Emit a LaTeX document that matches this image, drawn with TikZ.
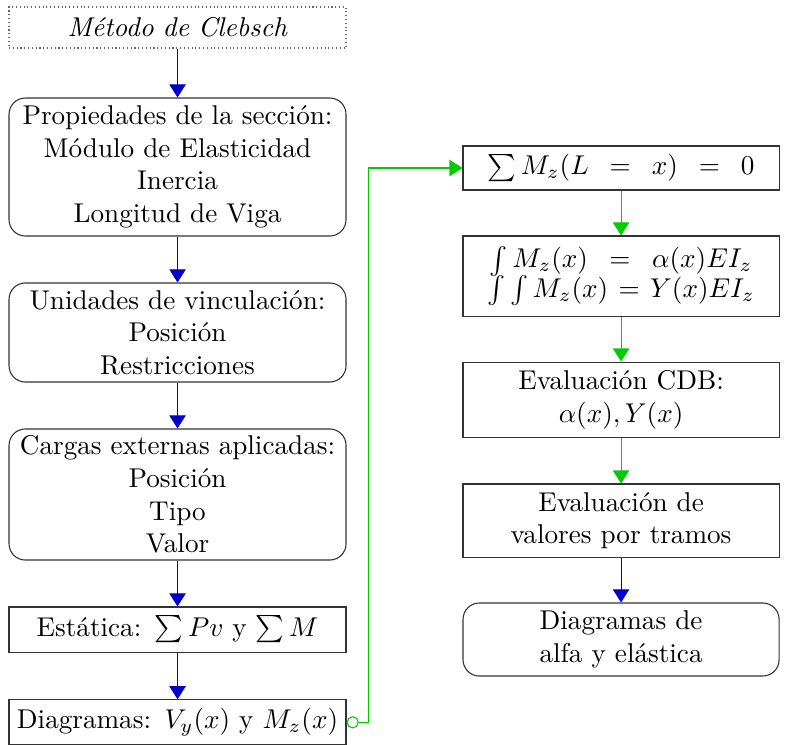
\documentclass[tikz,border=0pt]{standalone}
\usepackage{amsfonts, amssymb, amsmath}
\usepackage{xcolor}
\usepackage{tikz}
\usetikzlibrary{calc,arrows.meta}

\tikzset{
	caja/.style={draw=black!80, inner sep=0pt, align=center},
	cajaizq/.style={caja, minimum width=4.362cm, text width=4.3cm},
	cajader/.style={caja, minimum width=4.091cm, text width=4.0cm},
	redonda/.style={rounded corners=6pt},
	flechaazul/.style={blue!80!black, -{Triangle[width=6pt,length=4.8pt]}},
	flechaverde/.style={green!80!black, {Circle[open,length=4.5pt]}-{Triangle[width=6pt,length=4.8pt]}},
	flechaverdeb/.style={green!80!black, -{Triangle[width=6pt,length=4.8pt]}}
}

\begin{document}
\begin{tikzpicture}
\useasboundingbox (0,0) rectangle (10.2,-9.631);

% columna izquierda
\node[cajaizq, draw=black!60, densely dotted, minimum height=0.531cm] (titulo) at (2.298,-0.356) {\textit{Método de Clebsch}};
\node[cajaizq, redonda, minimum height=1.786cm] (prop) at (2.298,-2.162) {Propiedades de la sección:\\ Módulo de Elasticidad\\ Inercia\\ Longitud de Viga};
\node[cajaizq, redonda, minimum height=1.282cm] (unid) at (2.298,-4.304) {Unidades de vinculación:\\ Posición\\ Restricciones};
\node[cajaizq, redonda, minimum height=1.696cm] (cargas) at (2.298,-6.401) {Cargas externas aplicadas:\\ Posición\\ Tipo\\ Valor};
\node[cajaizq, minimum height=0.583cm] (estat) at (2.298,-8.149) {Estática: $\sum Pv$ y $\sum M$};
\node[cajaizq, minimum height=0.583cm] (diag) at (2.298,-9.35) {Diagramas: $V_y(x)$ y $M_z(x)$};

% columna derecha
\node[cajader, minimum height=0.57cm] (suma) at (8.039,-2.175) {$\sum M_z(L\;=\;x)\;=\;0$};
\node[cajader, minimum height=1.036cm] (integ) at (8.039,-3.573) {$\int M_z(x)\;=\;\alpha(x)EI_z$\\[-1pt] $\int\int M_z(x) = Y(x)EI_z$};
\node[cajader, minimum height=0.971cm] (cdb) at (8.039,-5.172) {Evaluación CDB:\\ $\alpha(x), Y(x)$};
\node[cajader, minimum height=0.945cm] (tramos) at (8.039,-6.738) {Evaluación de\\ valores por tramos};
\node[cajader, redonda, minimum height=0.945cm] (alfa) at (8.039,-8.278) {Diagramas de\\ alfa y elástica};

\coordinate (esq) at (4.764,0);

% flechas
\draw [flechaazul] (titulo) -- (prop);
\draw [flechaazul] (prop) -- (unid);
\draw [flechaazul] (unid) -- (cargas);
\draw [flechaazul] (cargas) -- (estat);
\draw [flechaazul] (estat) -- (diag);
\draw [flechaverde] (diag.east) -- (diag.east -| esq) |- (suma.west);
\draw [flechaverdeb] (suma) -- (integ);
\draw [flechaverdeb] (integ) -- (cdb);
\draw [flechaverdeb] (cdb) -- (tramos);
\draw [flechaazul] (tramos) -- (alfa);
\end{tikzpicture}
\end{document}
